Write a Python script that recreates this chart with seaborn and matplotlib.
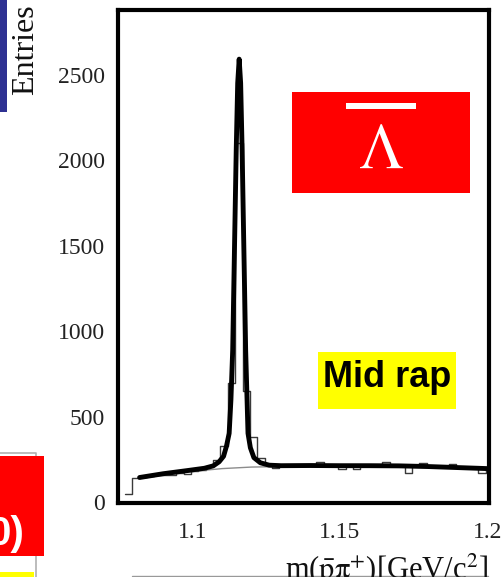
import numpy as np
import pandas as pd
import matplotlib
matplotlib.use("Agg")
import matplotlib.pyplot as plt
import seaborn as sns
from matplotlib.patches import Rectangle
from matplotlib.lines import Line2D

# ---------------- data ----------------
bin_start = 1.07695
bin_width = 0.0025
counts = [52, 146, 150, 155, 158, 163, 160, 172, 168, 182,
          192, 212, 250, 330, 700, 2100, 650, 380, 258, 222,
          200, 212, 215, 214, 216, 213, 238, 215, 214, 194,
          213, 197, 215, 214, 216, 238, 213, 215, 172, 214,
          232, 212, 215, 210, 224, 210, 200, 205, 175, 198]

fit_x = [1.082, 1.090, 1.098, 1.104, 1.107, 1.109, 1.1105, 1.1115, 1.1124,
         1.1130, 1.1136, 1.1142, 1.1148, 1.1153, 1.1158, 1.1163, 1.1168,
         1.1174, 1.1180, 1.1188, 1.1196, 1.1208, 1.1230, 1.126, 1.13, 1.14,
         1.15, 1.16, 1.17, 1.18, 1.19, 1.2]
fit_y = [146, 168, 186, 200, 214, 238, 270, 330, 404,
         600, 890, 1475, 2060, 2450, 2590, 2450, 2060,
         1475, 890, 404, 320, 262, 232, 218, 215, 216,
         215, 215, 214, 210, 204, 198]

bkg_x = [1.082, 1.09, 1.10, 1.11, 1.12, 1.13, 1.15, 1.17, 1.19, 1.2]
bkg_y = [140, 160, 182, 198, 207, 210, 210, 207, 202, 198]

xticks = [1.1, 1.15, 1.2]
xtick_labels = ["1.1", "1.15", "1.2"]
yticks = [0, 500, 1000, 1500, 2000, 2500]
ytick_labels = ["0", "500", "1000", "1500", "2000", "2500"]
y_title = "Entries"
x_title = r"m($\bar{\rm p}\mathrm{\pi}^{+}$)[GeV/c$^{2}$]"
particle_label = r"$\Lambda$"
region_label = "Mid rap"
cut_label = "0)"

# ---------------- figure ----------------
sns.set_style("white")
plt.rcParams["font.family"] = ["Liberation Serif", "DejaVu Serif"]
plt.rcParams["mathtext.fontset"] = "stix"

W, H = 501, 577
fig = plt.figure(figsize=(W / 100, H / 100), dpi=100)

def fx(px):
    return px / W

def fy(py):
    return 1 - py / H

ax_l, ax_r, ax_t, ax_b = 117.5, 489, 10, 502.5
ax = fig.add_axes([fx(ax_l), fy(ax_b), (ax_r - ax_l) / W, (ax_b - ax_t) / H])

n_bins = len(counts)
edges = bin_start + bin_width * np.arange(n_bins + 1)
centers = (edges[:-1] + edges[1:]) / 2
hist_df = pd.DataFrame({"m": centers, "n": counts})
sns.histplot(data=hist_df, x="m", weights="n", bins=n_bins,
             binrange=(float(edges[0]), float(edges[-1])), element="step",
             fill=False, color="#3a3a3a", linewidth=1.0, ax=ax)

bkg_df = pd.DataFrame({"m": bkg_x, "n": bkg_y})
sns.lineplot(data=bkg_df, x="m", y="n", color="#8c8c8c", linewidth=1.0,
             ax=ax, sort=False)

fit_df = pd.DataFrame({"m": fit_x, "n": fit_y})
sns.lineplot(data=fit_df, x="m", y="n", color="black", linewidth=3.5,
             ax=ax, sort=False)

ax.set_xlim(1.0745, 1.2006)
ax.set_ylim(0, 2877)
ax.set_xticks(xticks)
ax.set_xticklabels(xtick_labels)
ax.set_yticks(yticks)
ax.set_yticklabels(ytick_labels)
ax.set_xlabel("")
ax.set_ylabel("")
ax.tick_params(direction="in", length=11, width=1.3, color="#4a4a4a",
               labelsize=17, labelcolor="#222222")
ax.tick_params(axis="x", pad=14)
ax.tick_params(axis="y", pad=9)
for s in ax.spines.values():
    s.set_linewidth(3.0)
    s.set_color("black")
    s.set_visible(True)

# ---------------- slide decorations ----------------
def rect(x0, y0, x1, y1, **kw):
    fig.patches.append(Rectangle((fx(x0), fy(y1)), (x1 - x0) / W, (y1 - y0) / H,
                                 transform=fig.transFigure, **kw))

rect(0, 0, 7, 112, facecolor="#2e3192", edgecolor="none")
fig.text(fx(26), fy(50), y_title, rotation=90, ha="center", va="center",
         fontsize=23, color="#111111")

# top-right red box with anti-lambda
rect(292, 92, 470, 193, facecolor="#ff0000", edgecolor="none", zorder=5)
rect(346, 103, 416, 109, facecolor="white", edgecolor="none", zorder=6)
fig.text(fx(381), fy(168), particle_label, ha="center", va="baseline",
         fontsize=46, color="white", zorder=7)

# yellow box
rect(318, 352, 456, 409, facecolor="#ffff00", edgecolor="none", zorder=5)
fig.text(fx(387), fy(387), region_label, ha="center", va="baseline",
         fontsize=26, fontweight="bold", family=["Liberation Sans", "DejaVu Sans"],
         color="black", zorder=7)

# bottom-left partial slide box
fig.add_artist(Line2D([fx(0), fx(36), fx(36)], [fy(453), fy(453), fy(577)],
                      color="#b0b0b0", linewidth=1.2))
rect(0, 456, 44, 556, facecolor="#ff0000", edgecolor="none", zorder=5)
fig.text(fx(24), fy(545), cut_label, ha="right", va="baseline", fontsize=29,
         fontweight="bold", family=["Liberation Sans", "DejaVu Sans"],
         color="white", zorder=7)
rect(0, 572, 34, 577, facecolor="#ffff00", edgecolor="none", zorder=5)

# x title and slide line
fig.text(fx(488), fy(579), x_title, ha="right", va="baseline", fontsize=22,
         color="#111111")
fig.add_artist(Line2D([fx(132), fx(488)], [fy(575.5), fy(575.5)],
                      color="#999999", linewidth=1.0))

fig.savefig("out.png", dpi=100)
